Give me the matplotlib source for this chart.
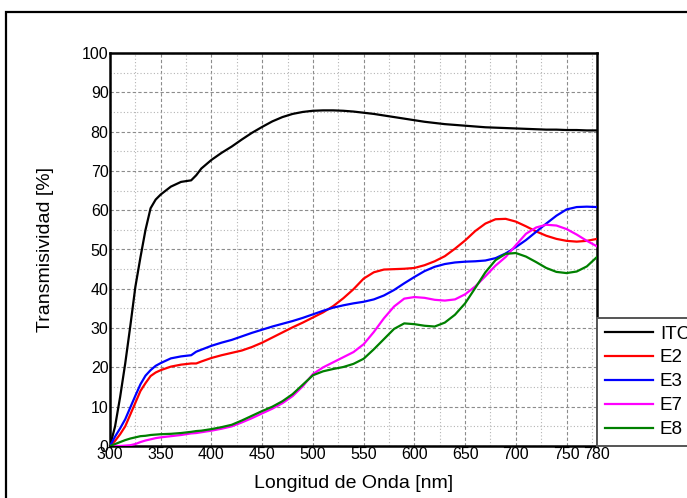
import matplotlib
matplotlib.use("Agg")
import matplotlib.pyplot as plt
from matplotlib.patches import Rectangle
from matplotlib.ticker import MultipleLocator

plt.rcParams['font.family'] = ['Liberation Sans', 'DejaVu Sans']

# Wavelength grid [nm]
wavelength = [300, 305, 310, 315, 320, 325, 330, 335, 340, 345, 350, 360, 370, 380, 385, 390,
              400, 410, 420, 430, 440, 450, 460, 470, 480, 490, 500, 510, 520, 530, 540, 550,
              560, 570, 580, 590, 600, 610, 620, 630, 640, 650, 660, 670, 680, 690, 700, 710,
              720, 730, 740, 750, 760, 770, 780]

itc = [0, 5, 12.5, 21, 30.5, 40.5, 48, 55, 60.5, 62.7, 64.0, 66, 67.2, 67.6, 68.9, 70.6,
       72.8, 74.6, 76.2, 78, 79.7, 81.2, 82.6, 83.7, 84.5, 85.0, 85.3, 85.4, 85.4, 85.3, 85.1, 84.8,
       84.5, 84.1, 83.7, 83.3, 82.9, 82.5, 82.2, 81.9, 81.7, 81.5, 81.3, 81.1, 81.0, 80.9, 80.8, 80.7,
       80.6, 80.5, 80.5, 80.4, 80.4, 80.3, 80.3]

e2 = [0, 1.3, 3, 5, 8, 11, 14, 16, 17.8, 18.7, 19.3, 20.2, 20.7, 21.0, 21.0, 21.5,
      22.4, 23.1, 23.7, 24.3, 25.2, 26.3, 27.6, 28.9, 30.2, 31.4, 32.7, 34.0, 35.6, 37.6, 39.9, 42.6,
      44.2, 44.9, 45.0, 45.1, 45.3, 46.0, 47.0, 48.3, 50.2, 52.3, 54.7, 56.6, 57.7, 57.8, 57.1, 55.9,
      54.6, 53.5, 52.7, 52.2, 52.0, 52.2, 52.7]

e3 = [0, 2.4, 4.5, 6.8, 9.8, 12.8, 15.7, 17.9, 19.3, 20.4, 21.1, 22.3, 22.8, 23.1, 24.0, 24.5,
      25.5, 26.3, 27.0, 27.9, 28.8, 29.6, 30.4, 31.1, 31.8, 32.6, 33.5, 34.4, 35.2, 35.8, 36.3, 36.7,
      37.3, 38.3, 39.7, 41.4, 43.0, 44.5, 45.6, 46.3, 46.7, 46.9, 47.0, 47.2, 47.8, 49.0, 50.6, 52.4,
      54.5, 56.6, 58.6, 60.2, 60.8, 60.9, 60.8]

e7 = [0, 0, 0, 0.1, 0.2, 0.5, 1.0, 1.4, 1.7, 2.0, 2.2, 2.5, 2.8, 3.2, 3.3, 3.5,
      3.9, 4.4, 5.0, 6.0, 7.1, 8.3, 9.5, 10.9, 12.7, 15.2, 18.3, 20.0, 21.3, 22.6, 23.9, 25.9,
      29.0, 32.5, 35.5, 37.5, 37.9, 37.7, 37.2, 37.0, 37.3, 38.6, 40.6, 43.2, 45.9, 48.1, 51.1, 54.0,
      55.6, 56.3, 56.1, 55.2, 53.8, 52.2, 50.8]

e8 = [0, 0.5, 1.0, 1.5, 1.9, 2.2, 2.5, 2.6, 2.8, 2.9, 3.0, 3.1, 3.3, 3.6, 3.8, 3.9,
      4.3, 4.8, 5.4, 6.5, 7.7, 8.9, 10.0, 11.4, 13.2, 15.6, 18.0, 19.0, 19.6, 20.1, 20.9, 22.2,
      24.6, 27.2, 29.8, 31.2, 31.0, 30.6, 30.4, 31.4, 33.4, 36.3, 40.2, 44.2, 47.3, 48.9, 49.1, 48.2,
      46.8, 45.3, 44.3, 44.0, 44.4, 45.7, 48.1]

series_names = ["ITC", "E2", "E3", "E7", "E8"]
series_colors = ["#000000", "#ff0000", "#0000ff", "#ff00ff", "#008000"]

x_ticks = [300, 350, 400, 450, 500, 550, 600, 650, 700, 750, 780]
y_ticks = [0, 10, 20, 30, 40, 50, 60, 70, 80, 90, 100]

W, H = 687, 498
fig = plt.figure(figsize=(W / 100, H / 100), dpi=100)

# outer frame around the figure
fig.patches.append(Rectangle((6 / W, -0.05), 1.1, (H - 12) / H + 0.05,
                             transform=fig.transFigure, fill=False,
                             edgecolor="black", linewidth=1.6))

ax = fig.add_axes([110 / W, (H - 446) / H, 487 / W, 393 / H])

for name, vals, col in zip(series_names, [itc, e2, e3, e7, e8], series_colors):
    ax.plot(wavelength, vals, color=col, linewidth=1.6, label=name, zorder=3)

ax.set_xlim(300, 780)
ax.set_ylim(0, 100)
ax.set_xticks(x_ticks)
ax.set_yticks(y_ticks)
ax.xaxis.set_minor_locator(MultipleLocator(25))
ax.yaxis.set_minor_locator(MultipleLocator(5))

ax.grid(which="major", color="#8c8c8c", linestyle=(0, (3, 2)), linewidth=0.8)
ax.grid(which="minor", color="#b4b4b4", linestyle=(0, (1, 2)), linewidth=0.8)
ax.set_axisbelow(True)

ax.tick_params(which="both", length=0)
ax.tick_params(axis="x", labelsize=11.5, pad=1)
ax.tick_params(axis="y", labelsize=11.5, pad=1)

for s in ax.spines.values():
    s.set_linewidth(1.8)
    s.set_color("black")

ax.set_xlabel("Longitud de Onda [nm]", fontsize=14, labelpad=9)
ax.set_ylabel("Transmisividad [%]", fontsize=14, labelpad=20)

leg = fig.legend(loc="upper left", bbox_to_anchor=(597 / W, (H - 318) / H),
                 bbox_transform=fig.transFigure, borderaxespad=0,
                 fontsize=13.5, handlelength=2.6, handletextpad=0.35,
                 borderpad=0.4, labelspacing=0.36, fancybox=False,
                 framealpha=1, edgecolor="#555555")
leg.get_frame().set_linewidth(1.4)

fig.savefig("out.png", dpi=100)
